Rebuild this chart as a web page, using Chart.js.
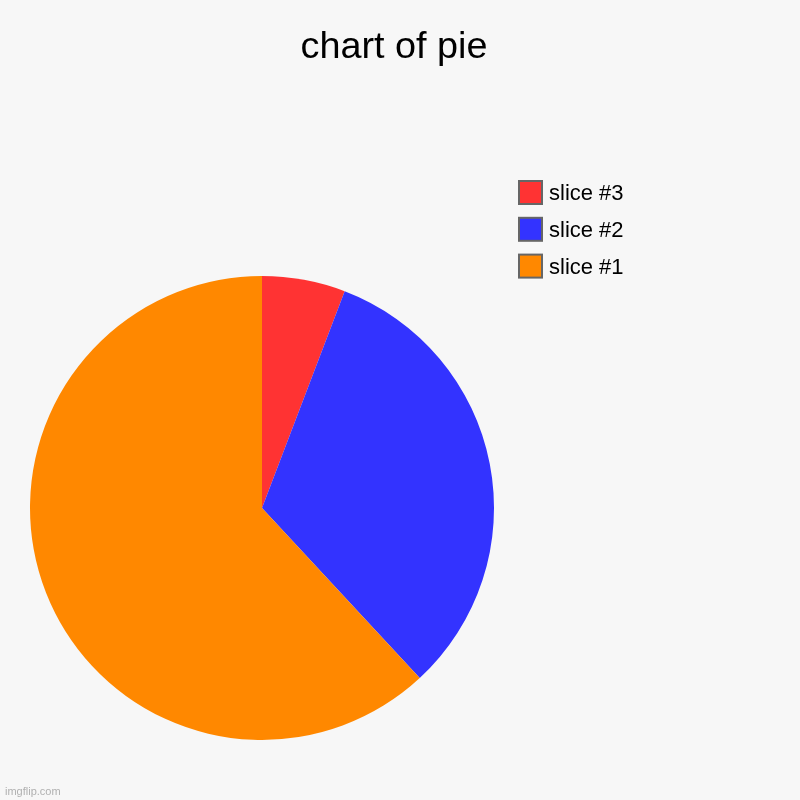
<!DOCTYPE html>
<html>
<head>
<meta charset="utf-8">
<script src="https://cdn.jsdelivr.net/npm/chart.js@4/dist/chart.umd.min.js"></script>
<style>
    html, body { margin: 0; padding: 0; background: #f7f7f7; overflow: hidden; }
    #pieChart { display: block; }
</style>
</head>
<body>
<canvas id="pieChart" width="800" height="800"></canvas>
<script>
// data, in drawing order (clockwise from top)
const labels = ['slice #3', 'slice #2', 'slice #1'];
const values = [5.8, 32.3, 61.9];
const colors = ['#ff3333', '#3333ff', '#ff8800'];
const chartTitle = 'chart of pie';

// title, legend, watermark drawn by hand to match the imgflip layout
const decorPlugin = {
    id: 'decor',
    beforeDraw: (chart) => {
        const ctx = chart.ctx;
        ctx.save();
        ctx.fillStyle = '#f7f7f7';
        ctx.fillRect(0, 0, chart.width, chart.height);
        ctx.restore();
    },
    afterDraw: (chart) => {
        const ctx = chart.ctx;
        ctx.save();

        // title
        ctx.fillStyle = '#000';
        ctx.font = '37.8px "Liberation Sans", Arial, sans-serif';
        ctx.textAlign = 'center';
        ctx.textBaseline = 'alphabetic';
        ctx.fillText(chartTitle, 394, 58);

        // legend
        ctx.textAlign = 'left';
        ctx.font = '22px "Liberation Sans", Arial, sans-serif';
        labels.forEach((lbl, i) => {
            const y = 181 + i * 36.8;
            ctx.fillStyle = colors[i];
            ctx.fillRect(519, y, 23, 23);
            ctx.strokeStyle = '#666';
            ctx.lineWidth = 2;
            ctx.strokeRect(519, y, 23, 23);
            ctx.fillStyle = '#000';
            ctx.fillText(lbl, 549, y + 19);
        });

        // watermark
        ctx.fillStyle = '#b0b0b0';
        ctx.font = '11px "Liberation Sans", Arial, sans-serif';
        ctx.fillText('imgflip.com', 5, 795);
        ctx.restore();
    }
};

new Chart(document.getElementById('pieChart'), {
    type: 'pie',
    data: {
        labels: labels,
        datasets: [{
            data: values,
            backgroundColor: colors,
            borderWidth: 0
        }]
    },
    options: {
        responsive: false,
        animation: false,
        devicePixelRatio: 1,
        layout: { padding: { left: 30, right: 306, top: 276, bottom: 60 } },
        plugins: {
            legend: { display: false },
            tooltip: { enabled: false },
            title: { display: false }
        }
    },
    plugins: [decorPlugin]
});
</script>
</body>
</html>
